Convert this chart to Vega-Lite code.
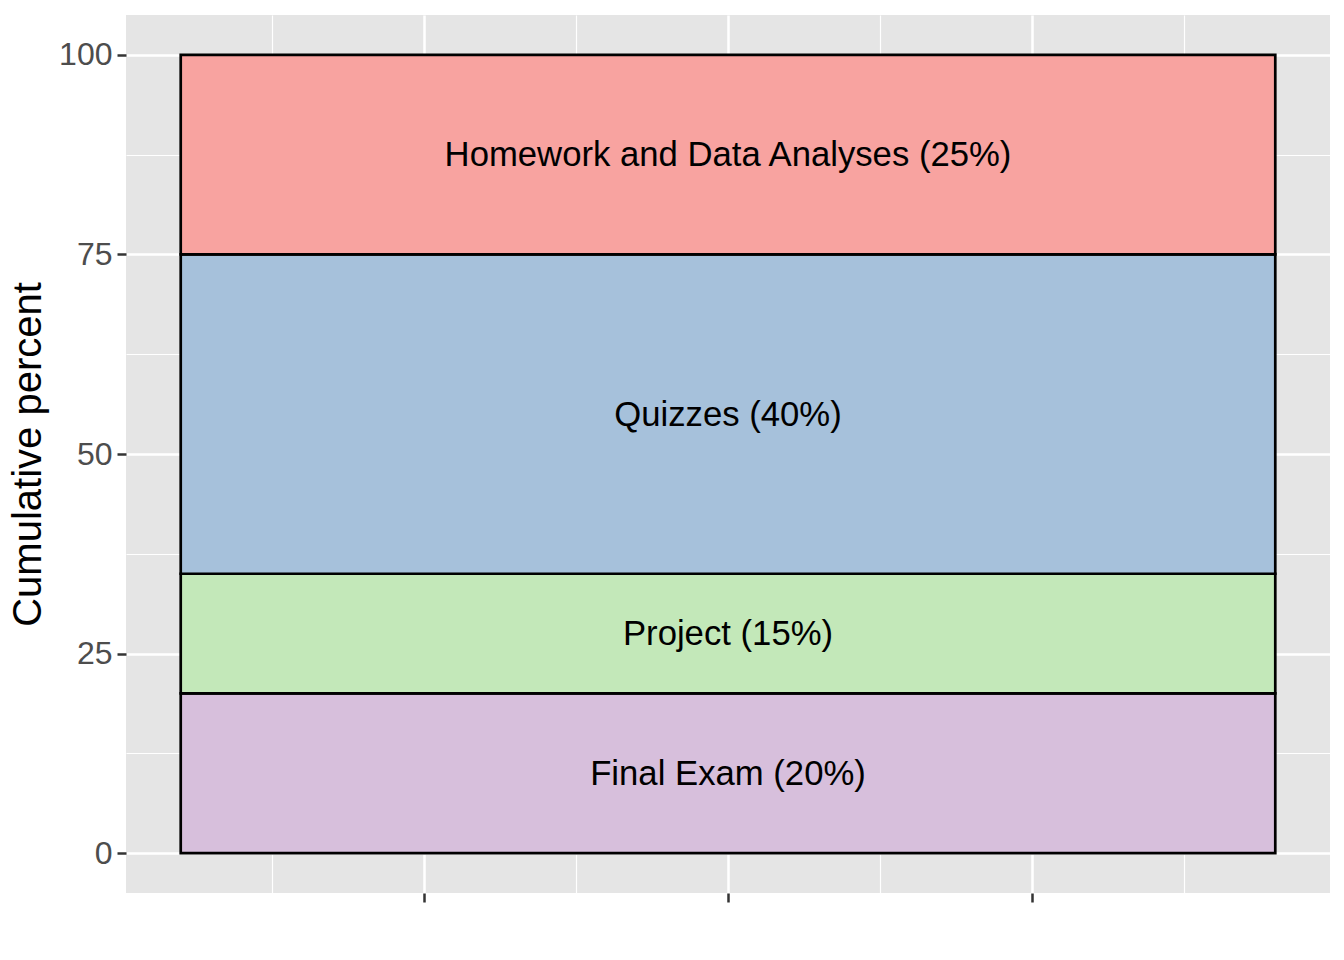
{
  "$schema": "https://vega.github.io/schema/vega-lite/v6.json",
  "width": 1204,
  "height": 878,
  "autosize": "none",
  "padding": {"left": 126, "top": 15, "right": 14, "bottom": 67},
  "background": "white",
  "config": {
    "view": {"fill": "#E5E5E5", "stroke": null},
    "font": "Liberation Sans"
  },
  "data": {
    "values": [
      {"cat": "Final Exam", "label": "Final Exam (20%)", "lo": 0, "hi": 20, "mid": 10},
      {"cat": "Project", "label": "Project (15%)", "lo": 20, "hi": 35, "mid": 27.5},
      {"cat": "Quizzes", "label": "Quizzes (40%)", "lo": 35, "hi": 75, "mid": 55},
      {"cat": "Homework", "label": "Homework and Data Analyses (25%)", "lo": 75, "hi": 100, "mid": 87.5}
    ]
  },
  "layer": [
    {
      "mark": {"type": "bar", "stroke": "black", "strokeWidth": 2.7, "opacity": 1},
      "encoding": {
        "x": {
          "datum": 0.55,
          "type": "quantitative",
          "scale": {"domain": [0.505, 1.495], "nice": false, "zero": false},
          "axis": {
            "values": [0.625, 0.75, 0.875, 1, 1.125, 1.25, 1.375],
            "labels": false,
            "title": null,
            "domain": false,
            "grid": true,
            "gridColor": "white",
            "gridOpacity": 1,
            "gridWidth": {"condition": {"test": "datum.value == 0.75 || datum.value == 1 || datum.value == 1.25", "value": 2.5}, "value": 1.2},
            "ticks": true,
            "tickColor": "#333333",
            "tickWidth": 2.5,
            "tickSize": 9,
            "tickOpacity": {"condition": {"test": "datum.value == 0.75 || datum.value == 1 || datum.value == 1.25", "value": 1}, "value": 0}
          }
        },
        "x2": {"datum": 1.45},
        "y": {
          "field": "lo",
          "type": "quantitative",
          "scale": {"domain": [-5, 105], "nice": false, "zero": false},
          "axis": {
            "values": [0, 12.5, 25, 37.5, 50, 62.5, 75, 87.5, 100],
            "labelExpr": "datum.value % 25 == 0 ? datum.label : ''",
            "labelFontSize": 32,
            "labelColor": "#4D4D4D",
            "labelPadding": 5,
            "labelOverlap": false,
            "domain": false,
            "grid": true,
            "gridColor": "white",
            "gridOpacity": 1,
            "gridWidth": {"condition": {"test": "datum.value % 25 == 0", "value": 2.5}, "value": 1.2},
            "tickColor": "#333333",
            "tickWidth": 2.5,
            "tickSize": 9,
            "tickOpacity": {"condition": {"test": "datum.value % 25 == 0", "value": 1}, "value": 0},
            "title": "Cumulative percent",
            "titleFontSize": 40,
            "titleFontWeight": "normal",
            "titleColor": "black",
            "titlePadding": 10
          }
        },
        "y2": {"field": "hi"},
        "color": {
          "field": "cat",
          "type": "nominal",
          "scale": {
            "domain": ["Final Exam", "Project", "Quizzes", "Homework"],
            "range": ["#D7BFDC", "#C3E8B9", "#A6C1DB", "#F8A3A0"]
          },
          "legend": null
        }
      }
    },
    {
      "mark": {"type": "text", "fontSize": 34.7, "color": "black", "baseline": "middle", "align": "center", "dy": 1.5},
      "encoding": {
        "x": {"datum": 1, "type": "quantitative"},
        "y": {"field": "mid", "type": "quantitative"},
        "text": {"field": "label"}
      }
    }
  ]
}
